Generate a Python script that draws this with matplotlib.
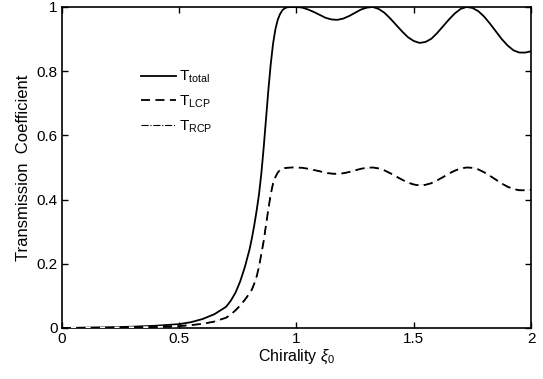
import matplotlib
matplotlib.use('Agg')
import matplotlib.pyplot as plt
import numpy as np

plt.rc('font', family='Liberation Sans', size=11)
plt.rc('mathtext', fontset='custom', rm='Liberation Sans', it='Liberation Sans:italic')

# chirality values and transmission
xi = [0, 0.1, 0.2, 0.3, 0.4, 0.5, 0.55, 0.6, 0.65,
      0.70, 0.72, 0.74, 0.76, 0.78, 0.80, 0.81, 0.82, 0.83, 0.84, 0.85, 0.86,
      0.87, 0.88, 0.89, 0.90, 0.91, 0.92, 0.93, 0.94, 0.95, 0.96, 0.98,
      1.0, 1.025, 1.05, 1.075, 1.1, 1.125, 1.15, 1.175, 1.2, 1.225, 1.25, 1.275,
      1.3, 1.325, 1.35, 1.375, 1.4, 1.425, 1.45, 1.475, 1.5, 1.525, 1.55, 1.575,
      1.6, 1.625, 1.65, 1.675, 1.7, 1.725, 1.75, 1.775, 1.8, 1.825, 1.85, 1.875,
      1.9, 1.925, 1.95, 1.975, 2.0]

t_total = [0.0, 0.001, 0.002, 0.004, 0.007, 0.012, 0.018, 0.028, 0.043,
           0.066, 0.085, 0.11, 0.145, 0.19, 0.245, 0.28, 0.32, 0.365, 0.415, 0.48, 0.56,
           0.65, 0.74, 0.82, 0.885, 0.93, 0.96, 0.978, 0.99, 0.996, 0.999, 1.0,
           1.0, 0.998, 0.992, 0.984, 0.975, 0.966, 0.961, 0.96, 0.964, 0.972, 0.982, 0.992,
           0.998, 1.0, 0.994, 0.982, 0.964, 0.944, 0.924, 0.906, 0.894, 0.888, 0.891, 0.901,
           0.919, 0.94, 0.961, 0.98, 0.994, 1.0, 0.997, 0.987, 0.97, 0.948, 0.924, 0.9,
           0.88, 0.865, 0.858, 0.858, 0.862]

t_lcp = [0.0, 0.0005, 0.001, 0.002, 0.003, 0.006, 0.009, 0.013, 0.02,
         0.032, 0.042, 0.055, 0.07, 0.088, 0.108, 0.12, 0.138, 0.16, 0.19, 0.23, 0.27,
         0.32, 0.37, 0.415, 0.45, 0.47, 0.484, 0.492, 0.496, 0.498, 0.499, 0.5,
         0.5, 0.499, 0.496, 0.492, 0.488, 0.483, 0.481, 0.48, 0.482, 0.486, 0.491, 0.496,
         0.499, 0.5, 0.497, 0.491, 0.482, 0.472, 0.462, 0.453, 0.447, 0.444, 0.446, 0.451,
         0.46, 0.47, 0.481, 0.49, 0.497, 0.5, 0.499, 0.494, 0.485, 0.474, 0.462, 0.45,
         0.44, 0.433, 0.429, 0.429, 0.431]

t_rcp = t_lcp

fig = plt.figure(figsize=(5.43, 3.79), dpi=100)
ax = fig.add_axes([0.114, 0.1346, 0.864, 0.847])

ax.plot(xi, t_total, '-', color='k', lw=1.3, label=r'T$_{\rm total}$', zorder=3)
# RCP lies under LCP; LCP drawn with white gaps so it hides RCP like the original
ax.plot(xi, t_rcp, '-.', color='k', lw=0.8, label=r'T$_{\rm RCP}$', zorder=2)
ax.plot(xi, t_lcp, '--', color='k', lw=1.3, dashes=(5, 3), gapcolor='white',
        label=r'T$_{\rm LCP}$', zorder=3)

ax.set_xlim(0, 2)
ax.set_ylim(0, 1)
ax.set_xticks([0, 0.5, 1, 1.5, 2], ['0', '0.5', '1', '1.5', '2'])
ax.set_yticks([0, 0.2, 0.4, 0.6, 0.8, 1], ['0', '0.2', '0.4', '0.6', '0.8', '1'])
ax.tick_params(direction='in', top=True, right=True, length=4, width=1, pad=3)
for s in ax.spines.values():
    s.set_linewidth(1.2)

ax.set_xlabel(r'Chirality $\xi_0$', labelpad=1, fontsize=11.5)
ax.set_ylabel('Transmission  Coefficient', labelpad=4, fontsize=12)

h, l = ax.get_legend_handles_labels()
order = [0, 2, 1]
ax.legend([h[i] for i in order], [l[i] for i in order],
          loc='upper left', bbox_to_anchor=(0.14, 0.85), frameon=False,
          handlelength=2.3, handletextpad=0.15, labelspacing=0.55, fontsize=11)

fig.savefig('out.png', dpi=100)
